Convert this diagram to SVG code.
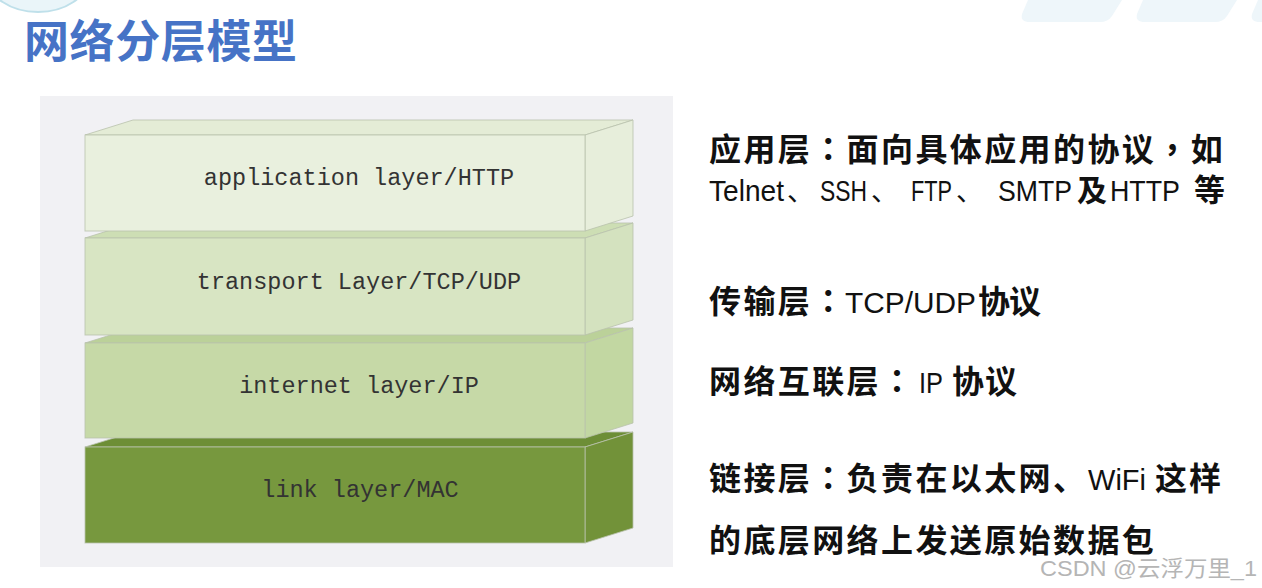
<svg xmlns="http://www.w3.org/2000/svg" width="1262" height="588" viewBox="0 0 1262 588">
<style>
.lbl{font-family:"Liberation Mono","DejaVu Sans Mono",monospace;font-size:23.5px;fill:#333;text-anchor:middle}
.cj{font-family:"Noto Sans CJK SC","Noto Sans",sans-serif;font-weight:bold;font-size:32px;fill:#111}
.tc{font-family:"Noto Sans CJK TC","Noto Sans CJK SC",sans-serif}
.cjr{font-family:"Noto Sans CJK SC",sans-serif;font-weight:normal;font-size:27px;fill:#111}
.lt{font-family:"Liberation Sans","Noto Sans",sans-serif;font-weight:normal;font-size:30px;fill:#111}
.edge{stroke:#b9c2ad;stroke-width:1;stroke-opacity:0.8}
.deco{fill:#eef6fa}
</style>
<rect width="1262" height="588" fill="#ffffff"/>
<g id="decor">
<ellipse cx="38" cy="-22" rx="50" ry="34" fill="#eaf5f9" stroke="#bfe0ea" stroke-width="2"/>
<path class="deco" d="M1028 0 H1122 L1112 16 Q1108 22 1100 22 H1030 Q1020 22 1022 14 Z"/>
<path class="deco" d="M1143 0 H1237 L1227 16 Q1223 22 1215 22 H1145 Q1135 22 1137 14 Z"/>
<path class="deco" d="M1258 0 H1262 V22 H1260 Q1250 22 1252 14 Z"/>
</g>
<g id="title">
<text x="24" y="58" style="font-family:'Noto Sans CJK SC','Noto Sans',sans-serif;font-weight:bold;font-size:45px;fill:#4673c6;letter-spacing:0.6px">网络分层模型</text>
</g>
<rect id="panel" x="40" y="96" width="633" height="471" fill="#f1f1f4"/>
<g id="link-layer">
<polygon class="edge" points="85,447 133,432 633,432 585,447" fill="#6d8e36"/>
<polygon class="edge" points="585,447 633,432 633,528 585,543" fill="#729239"/>
<rect class="edge" x="85" y="447" width="500" height="96" fill="#77983e"/>
<text class="lbl" x="360" y="497">link layer/MAC</text>
</g>
<g id="internet-layer">
<polygon class="edge" points="85,343 133,328 633,328 585,343" fill="#bbd199"/>
<polygon class="edge" points="585,343 633,328 633,423 585,438" fill="#c2d7a2"/>
<rect class="edge" x="85" y="343" width="500" height="95" fill="#c6d9a7"/>
<text class="lbl" x="359" y="393">internet layer/IP</text>
</g>
<g id="transport-layer">
<polygon class="edge" points="85,238 133,223 633,223 585,238" fill="#cddeb4"/>
<polygon class="edge" points="585,238 633,223 633,320 585,335" fill="#d4e2bf"/>
<rect class="edge" x="85" y="238" width="500" height="97" fill="#d8e5c3"/>
<text class="lbl" x="359" y="289">transport Layer/TCP/UDP</text>
</g>
<g id="application-layer">
<polygon class="edge" points="85,135 133,120 633,120 585,135" fill="#e4ecd6"/>
<polygon class="edge" points="585,135 633,120 633,216 585,231" fill="#e7eedb"/>
<rect class="edge" x="85" y="135" width="500" height="96" fill="#e9f0de"/>
<text class="lbl" x="359" y="185">application layer/HTTP</text>
</g>
<g id="connectors"/>
<g id="desc">
<text class="cj" x="709" y="161" style="letter-spacing:2.4px">应用层<tspan class="tc">：</tspan>面向具体应用的协议<tspan class="tc">，</tspan>如</text>
<text class="lt" x="709" y="201" textLength="75" lengthAdjust="spacingAndGlyphs">Telnet</text>
<text class="cjr" x="787" y="201">、</text>
<text class="lt" x="820" y="201" textLength="47" lengthAdjust="spacingAndGlyphs">SSH</text>
<text class="cjr" x="871" y="201">、</text>
<text class="lt" x="911" y="201" textLength="41" lengthAdjust="spacingAndGlyphs">FTP</text>
<text class="cjr" x="956" y="201">、</text>
<text class="lt" x="998" y="201" textLength="74" lengthAdjust="spacingAndGlyphs">SMTP</text>
<text class="cj" x="1077" y="201" style="font-size:30px">及</text>
<text class="lt" x="1110" y="201" textLength="70" lengthAdjust="spacingAndGlyphs">HTTP</text>
<text class="cj" x="1194" y="201" style="font-size:31px">等</text>
<text class="cj" x="709" y="313" style="letter-spacing:2.4px">传输层<tspan class="tc">：</tspan></text>
<text class="lt" x="845" y="313" textLength="131" lengthAdjust="spacingAndGlyphs">TCP/UDP</text>
<text class="cj" x="978" y="313" style="letter-spacing:-1px">协议</text>
<text class="cj" x="709" y="393" style="letter-spacing:2.4px">网络互联层<tspan class="tc">：</tspan></text>
<text class="lt" x="919" y="393" textLength="24" lengthAdjust="spacingAndGlyphs">IP</text>
<text class="cj" x="952" y="393" style="letter-spacing:1px">协议</text>
<text class="cj" x="709" y="490" style="letter-spacing:2.4px">链接层<tspan class="tc">：</tspan>负责在以太网、</text>
<text class="lt" x="1088" y="490" textLength="58" lengthAdjust="spacingAndGlyphs">WiFi</text>
<text class="cj" x="1155" y="490" style="letter-spacing:2px">这样</text>
<text class="cj" x="709" y="552" style="letter-spacing:2.4px">的底层网络上发送原始数据包</text>
</g>
<text id="watermark" x="1040" y="576" textLength="217" lengthAdjust="spacingAndGlyphs" style="font-family:'Liberation Sans','Noto Sans CJK SC',sans-serif;font-size:22px;fill:#b5b5b5">CSDN @云浮万里_1</text>
</svg>
